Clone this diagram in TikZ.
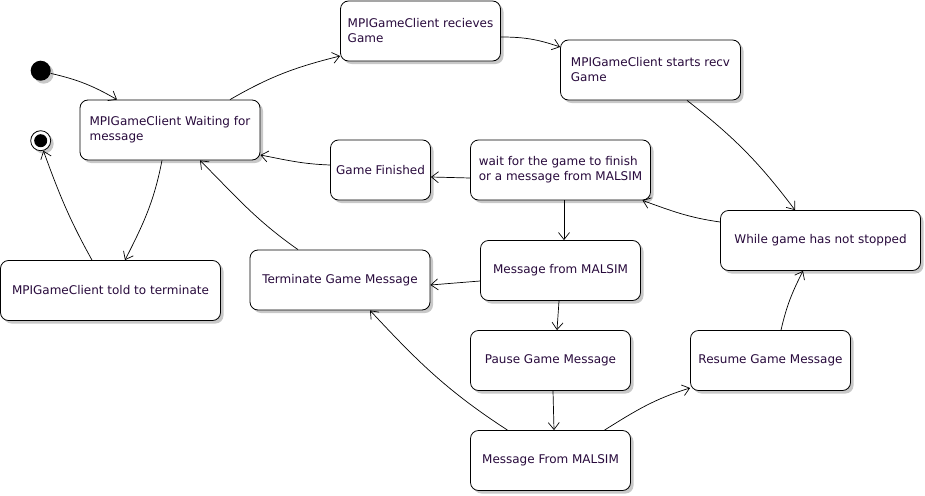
\documentclass[tikz,border=0pt]{standalone}
\usepackage{fontspec}
\setmainfont{DejaVu Sans}
\usepackage{xcolor}
\usepackage{tikz}
\usetikzlibrary{arrows.meta, shadows}

\definecolor{statetext}{RGB}{40,10,60}
\definecolor{shadowgray}{RGB}{200,200,200}

\begin{document}
\begin{tikzpicture}[
    x=1pt, y=-1pt,
    shade/.style={drop shadow={shadow xshift=3pt, shadow yshift=-3pt, fill=shadowgray, opacity=1}},
    state/.style={rectangle, draw, fill=white, rounded corners=8pt, minimum height=60pt, inner sep=0pt, align=left, text=statetext, font=\fontsize{12}{15}\selectfont, line width=0.8pt, shade},
    trans/.style={draw, line width=0.7pt, -{Straight Barb[length=7pt, width=11pt]}}
]
\useasboundingbox (0,0) rectangle (925,495);

\node [circle, fill=black, minimum size=20pt, inner sep=0pt, shade] (init) at (40.7,70.7) {};
\node [circle, draw, fill=white, minimum size=20pt, inner sep=0pt, line width=0.8pt, shade] (final) at (40.7,140.7) {};
\fill (final.center) circle (6.5pt);

\node [state, minimum width=180pt] (waiting) at (170,130) {MPIGameClient Waiting for\\message};
\node [state, minimum width=160pt] (recv) at (420.5,31) {MPIGameClient recieves\\Game};
\node [state, minimum width=180pt] (startrecv) at (650.5,70) {MPIGameClient starts recv\\Game};
\node [state, minimum width=100pt] (finished) at (380.5,170) {Game Finished};
\node [state, minimum width=180pt] (waitgame) at (560.5,170) {wait for the game to finish\\or a message from MALSIM};
\node [state, minimum width=200pt] (running) at (820.5,240.5) {While game has not stopped};
\node [state, minimum width=160pt] (msgA) at (560.5,270.5) {Message from MALSIM};
\node [state, minimum width=160pt] (pause) at (550.5,360.5) {Pause Game Message};
\node [state, minimum width=160pt] (resume) at (770.5,360.5) {Resume Game Message};
\node [state, minimum width=160pt] (msgB) at (550.5,460.5) {Message From MALSIM};
\node [state, minimum width=220pt] (told) at (110.5,290.5) {MPIGameClient told to terminate};
\node [state, minimum width=180pt] (terminate) at (340,280) {Terminate Game Message};

\path [trans] (init.-15) to[out=-13, in=150] ([xshift=-53pt]waiting.north);
\path [trans] ([xshift=60pt]waiting.north) to[out=30, in=194] ([yshift=-25pt]recv.west);
\path [trans] ([yshift=-6pt]recv.east) to[out=0, in=161] ([yshift=23pt]startrecv.west);
\path [trans] ([xshift=36.5pt]startrecv.south) to[out=-38, in=127] ([xshift=-25.5pt]running.north);
\path [trans] ([yshift=18.5pt]running.west) to[out=172, in=-20] ([xshift=82pt]waitgame.south);
\path [trans] ([yshift=-8pt]waitgame.west) -- ([yshift=-7pt]finished.east);
\path [trans] ([yshift=5pt]finished.west) to[out=178, in=-11] ([yshift=-25pt]waiting.east);
\path [trans] ([xshift=3.5pt]waitgame.south) -- ([xshift=3.5pt]msgA.north);
\path [trans] ([yshift=-10.5pt]msgA.west) -- ([yshift=-5pt]terminate.east);
\path [trans] ([xshift=-1.5pt]msgA.south) -- ([xshift=6.5pt]pause.north);
\path [trans] ([xshift=2.5pt]pause.south) -- ([xshift=3.5pt]msgB.north);
\path [trans] ([xshift=-43pt]msgB.north) to[out=147, in=-47] ([xshift=30pt]terminate.south);
\path [trans] ([xshift=54pt]msgB.north) to[out=32, in=197] ([yshift=-27.5pt]resume.west);
\path [trans] ([xshift=10.5pt]resume.north) to[out=77, in=243] ([xshift=-17.5pt]running.south);
\path [trans] ([xshift=-42pt]terminate.north) to[out=145, in=-45] ([xshift=30pt]waiting.south);
\path [trans] ([xshift=-8pt]waiting.south) to[out=-101, in=63] ([xshift=14.5pt]told.north);
\path [trans] ([xshift=-18.5pt]told.north) to[out=119, in=-70] (final.-75);
\end{tikzpicture}
\end{document}
